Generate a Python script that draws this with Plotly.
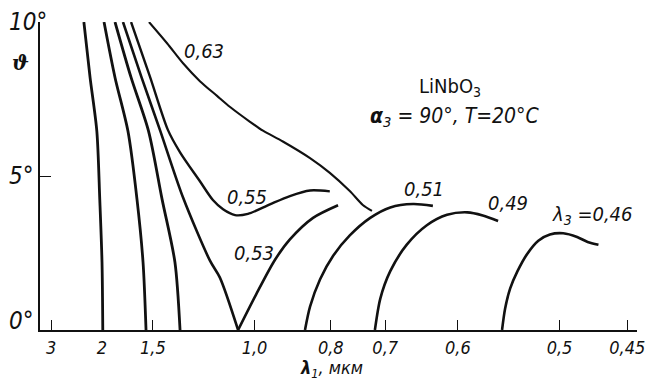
import plotly.graph_objects as go

# ---------------- data ----------------
# x-axis tick marks: signal wavelength lambda_1 (µm); axis is linear in 1/lambda_1
TICK_LAMBDA = [3, 2, 1.5, 1.0, 0.8, 0.7, 0.6, 0.5, 0.45]
TICK_TEXT = ["3", "2", "1,5", "1,0", "0,8", "0,7", "0,6", "0,5", "0,45"]
THETA_TICKS = [0, 5, 10]
THETA_TEXT = ["0°", "5°", "10°"]

# unlabeled steep curves (left part of the chart)
lam1_a = [2.27, 2.17, 2.07, 2.03, 2.00, 1.99]
theta_a = [10.0, 8.2, 6.45, 4.25, 2.2, 0.0]
lam1_b = [1.974, 1.843, 1.709, 1.627, 1.576, 1.552]
theta_b = [10.0, 8.2, 6.45, 4.25, 2.2, 0.0]
lam1_c = [1.843, 1.680, 1.532, 1.435, 1.353, 1.323]
theta_c = [10.0, 8.2, 6.45, 4.25, 2.2, 0.0]

# labeled curves, lambda_3 = pump wavelength (µm)
lam1_063 = [1.529, 1.402, 1.306, 1.218, 1.140, 1.087, 1.015, 0.973, 0.915, 0.846, 0.802, 0.762, 0.738, 0.722]
theta_063 = [10.0, 9.31, 8.66, 8.08, 7.60, 7.24, 6.76, 6.47, 6.12, 5.58, 5.10, 4.51, 4.06, 3.87]

lam1_055 = [1.680, 1.521, 1.396, 1.323, 1.218, 1.158, 1.115, 1.068, 1.022, 0.952, 0.896, 0.846, 0.802]
theta_055 = [10.0, 8.22, 6.49, 5.77, 4.83, 4.22, 3.92, 3.73, 3.77, 4.08, 4.35, 4.53, 4.50]

lam1_053 = [1.758, 1.589, 1.449, 1.306, 1.171, 1.128, 1.057, 0.995, 0.937, 0.896, 0.839, 0.785]
theta_053 = [10.0, 8.21, 6.49, 4.30, 2.25, 1.70, 0.0, 1.15, 2.28, 2.94, 3.64, 4.05]

lam1_051 = [0.858, 0.846, 0.823, 0.795, 0.762, 0.725, 0.692, 0.658, 0.631]
theta_051 = [0.0, 0.76, 1.65, 2.41, 3.07, 3.64, 3.98, 4.09, 4.03]

lam1_049 = [0.717, 0.708, 0.692, 0.667, 0.639, 0.613, 0.589, 0.572, 0.556]
theta_049 = [0.0, 1.02, 1.91, 2.77, 3.40, 3.74, 3.82, 3.72, 3.54]

lam1_046 = [0.552, 0.549, 0.544, 0.537, 0.528, 0.518, 0.508, 0.497, 0.486, 0.478, 0.470]
theta_046 = [0.0, 0.69, 1.35, 1.91, 2.47, 2.90, 3.10, 3.14, 3.02, 2.86, 2.77]

# curve labels: text, and where it sits (lambda_1, theta)
LABEL_TEXT = ["0,63", "0,55", "0,53", "0,51", "0,49", "λ<sub>3</sub> =0,46"]
LABEL_LAM = [1.198, 1.025, 1.0016, 0.6428, 0.546, 0.4747]
LABEL_THETA = [9.07, 4.33, 2.50, 4.58, 4.13, 3.75]

# ---------------- figure ----------------
FONT = "DejaVu Sans Condensed, DejaVu Sans, Liberation Sans, sans-serif"
INK = "#111111"

def inv(vals):
    return [1.0 / v for v in vals]

fig = go.Figure()

def add_curve(lam, th, width=2.6):
    fig.add_trace(go.Scatter(
        x=inv(lam), y=th, mode="lines",
        line=dict(color=INK, width=width, shape="spline", smoothing=0.8),
        hoverinfo="skip", showlegend=False))

add_curve(lam1_a, theta_a, 2.8)
add_curve(lam1_b, theta_b, 2.8)
add_curve(lam1_c, theta_c, 2.8)
add_curve(lam1_063, theta_063, 2.1)
add_curve(lam1_055, theta_055, 2.4)
# 0.53 has a sharp V at theta = 0: draw the two branches separately
k = theta_053.index(0.0)
add_curve(lam1_053[:k + 1], theta_053[:k + 1], 2.6)
add_curve(lam1_053[k:], theta_053[k:], 2.6)
add_curve(lam1_051, theta_051, 2.6)
add_curve(lam1_049, theta_049, 2.6)
add_curve(lam1_046, theta_046, 2.6)

annotations = []
for t, lx, ly in zip(LABEL_TEXT, LABEL_LAM, LABEL_THETA):
    annotations.append(dict(
        x=1.0 / lx, y=ly, xref="x", yref="y", text=t, showarrow=False,
        xanchor="center", yanchor="middle",
        font=dict(family=FONT, size=20, color=INK, style="italic")))

# material / conditions
annotations.append(dict(
    x=1.0 / 0.6094, y=7.88, xref="x", yref="y", text="LiNbO<sub>3</sub>",
    showarrow=False, xanchor="center", yanchor="middle",
    font=dict(family=FONT, size=20, color=INK)))
annotations.append(dict(
    x=1.0 / 0.6034, y=6.92, xref="x", yref="y",
    text="<b>α</b><sub>3</sub> = 90°, T=20°C",
    showarrow=False, xanchor="center", yanchor="middle",
    font=dict(family=FONT, size=21, color=INK, style="italic")))

# axis titles
annotations.append(dict(
    x=0.489, y=-0.125, xref="paper", yref="paper",
    text="<b>λ</b><sub>1</sub>, мкм", showarrow=False,
    xanchor="center", yanchor="middle",
    font=dict(family=FONT, size=18, color=INK, style="italic")))
annotations.append(dict(
    x=-0.0335, y=0.867, xref="paper", yref="paper",
    text="<b>ϑ</b>", showarrow=False, xanchor="center", yanchor="middle",
    font=dict(family="DejaVu Serif, Liberation Serif, serif", size=20, color=INK,
              style="italic")))

# y tick labels: left-aligned at the figure edge; 0° sits just above the baseline
Y_LABEL_SHIFT = [9, 0, 0]
for val, txt, dy in zip(THETA_TICKS, THETA_TEXT, Y_LABEL_SHIFT):
    annotations.append(dict(
        x=0, y=val, xref="paper", yref="y", text=txt, showarrow=False,
        xanchor="left", yanchor="middle", xshift=-33, yshift=dy,
        font=dict(family=FONT, size=24, color=INK, style="italic")))

fig.update_layout(
    width=649, height=382, autosize=False,
    margin=dict(l=40, r=12, t=22, b=52, autoexpand=False),
    paper_bgcolor="white", plot_bgcolor="white",
    showlegend=False,
    annotations=annotations,
    xaxis=dict(
        range=[0.2967, 2.254], automargin=False,
        tickmode="array", tickvals=inv(TICK_LAMBDA), ticktext=TICK_TEXT,
        ticks="inside", ticklen=10, tickwidth=1.3, tickcolor=INK,
        showline=True, linecolor=INK, linewidth=2,
        showgrid=False, zeroline=False,
        tickfont=dict(family=FONT, size=18, color=INK, style="italic"),
    ),
    yaxis=dict(
        range=[0, 10], automargin=False,
        tickmode="array", tickvals=THETA_TICKS, showticklabels=False,
        ticks="inside", ticklen=11, tickwidth=1.3, tickcolor=INK,
        showline=True, linecolor=INK, linewidth=2,
        showgrid=False, zeroline=False,
    ),
)

fig.write_html("out.html",
               config={"displayModeBar": False},
               post_script="document.body.style.margin='0';document.body.style.padding='0';")
